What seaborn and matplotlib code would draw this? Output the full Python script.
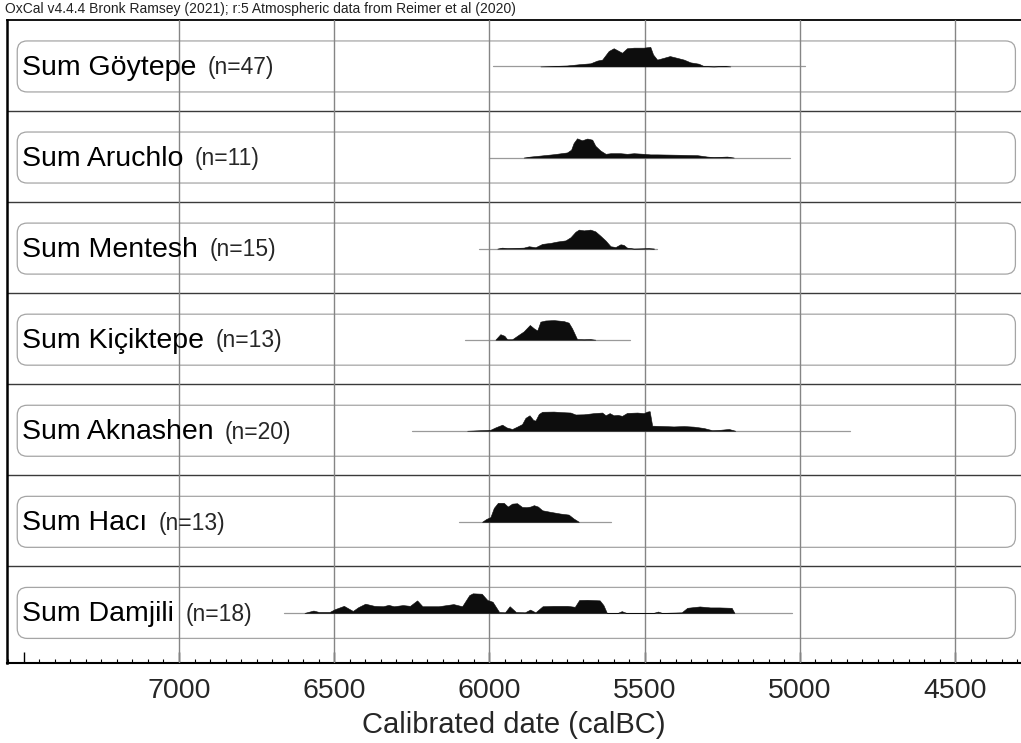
import matplotlib
matplotlib.use('Agg')
import matplotlib.pyplot as plt
from matplotlib.patches import FancyBboxPatch
import seaborn as sns
import pandas as pd

# row labels, top to bottom
sites = ['Göytepe', 'Aruchlo', 'Mentesh', 'Kiçiktepe', 'Aknashen', 'Hacı', 'Damjili']
n_dates = [47, 11, 15, 13, 20, 13, 18]

# thin range lines (start, end) in calBC
ranges = [(5990, 4985), (6002, 5031), (6034, 5460), (6080, 5546),
          (6249, 4840), (6099, 5610), (6661, 5026)]

# summed probability curves (relative heights)
goytepe_years = [5836, 5750, 5707, 5675, 5653, 5637, 5616, 5600, 5587, 5573, 5557, 5535, 5503,
                 5482, 5473, 5460, 5439, 5419, 5396, 5374, 5353, 5326, 5310, 5278, 5240, 5224]
goytepe_dens = [0, .05, .12, .16, .30, .35, .79, .93, .82, .70, .93, .96, .96,
                1.0, .61, .35, .44, .53, .44, .35, .21, .14, .02, 0, .03, 0]

aruchlo_years = [5890, 5868, 5836, 5793, 5750, 5737, 5729, 5718, 5702, 5685, 5669, 5659, 5643, 5626,
                 5610, 5578, 5557, 5535, 5503, 5482, 5460, 5385, 5331, 5299, 5278, 5235, 5213]
aruchlo_dens = [0, .05, .10, .17, .26, .40, .74, .98, .88, .97, .91, .60, .36, .19,
                .22, .22, .19, .22, .19, .16, .16, .14, .12, .05, .02, .05, 0]

mentesh_years = [5975, 5959, 5943, 5890, 5873, 5852, 5830, 5804, 5782, 5755, 5739, 5723, 5712,
                 5696, 5675, 5659, 5643, 5626, 5610, 5594, 5578, 5568, 5557, 5535, 5487, 5470]
mentesh_dens = [0, .05, .02, .05, .12, .07, .24, .29, .36, .42, .58, .86, .97,
                .93, .97, .88, .66, .41, .12, .08, .22, .19, .05, 0, .02, 0]

kiciktepe_years = [5981, 5965, 5952, 5943, 5927, 5906, 5890, 5870, 5857, 5846, 5836, 5820, 5793,
                   5761, 5745, 5734, 5718, 5696, 5675, 5659]
kiciktepe_dens = [0, .28, .20, .02, .02, .25, .42, .75, .58, .47, .92, .98, 1.0,
                  .95, .87, .58, .03, .02, .03, 0]

aknashen_years = [6072, 5997, 5981, 5959, 5945, 5927, 5911, 5895, 5884, 5871, 5859, 5852, 5841,
                  5830, 5793, 5766, 5739, 5723, 5696, 5664, 5637, 5626, 5613, 5600, 5587, 5573,
                  5557, 5524, 5503, 5492, 5484, 5476, 5439, 5407, 5374, 5342, 5310, 5283, 5256,
                  5229, 5208]
aknashen_dens = [0, .05, .17, .31, .17, .09, .21, .34, .66, .79, .55, .52, .86,
                 .97, .98, .95, .93, .83, .84, .90, .93, .79, .90, .79, .81, .76,
                 .91, .93, .90, .98, 1.0, .26, .24, .22, .24, .21, .14, .03, .05,
                 .09, 0]

haci_years = [6024, 6010, 5997, 5986, 5973, 5954, 5941, 5927, 5911, 5895, 5881, 5868, 5857,
              5844, 5830, 5804, 5771, 5745, 5729, 5712]
haci_dens = [0, .15, .24, .71, .97, .97, .78, .93, .95, .76, .75, .78, .85,
             .78, .59, .51, .42, .37, .17, 0]

damjili_years = [6596, 6567, 6550, 6515, 6498, 6469, 6440, 6423, 6400, 6371, 6343, 6325, 6308,
                 6279, 6256, 6233, 6216, 6164, 6116, 6088, 6065, 6054, 6025, 6007, 5990, 5969,
                 5950, 5935, 5915, 5886, 5869, 5852, 5829, 5794, 5749, 5725, 5711, 5685, 5645,
                 5633, 5622, 5587, 5574, 5559, 5472, 5457, 5444, 5381, 5363, 5323, 5289, 5260,
                 5220, 5211]
damjili_dens = [0, .12, .05, .05, .19, .36, .10, .29, .47, .36, .34, .41, .34,
                .40, .36, .64, .34, .34, .45, .34, .91, 1.0, .98, .66, .57, .05,
                .03, .34, .05, .03, .17, .03, .34, .36, .36, .31, .66, .67, .64,
                .40, 0, 0, .09, 0, 0, .07, 0, .03, .26, .33, .28, .28,
                .26, 0]

curves = [(goytepe_years, goytepe_dens), (aruchlo_years, aruchlo_dens),
          (mentesh_years, mentesh_dens), (kiciktepe_years, kiciktepe_dens),
          (aknashen_years, aknashen_dens), (haci_years, haci_dens),
          (damjili_years, damjili_dens)]

major_ticks = [7500, 7000, 6500, 6000, 5500, 5000, 4500]
major_labels = ['', '7000', '6500', '6000', '5500', '5000', '4500']

sns.set_theme(style='white')
plt.rcParams['font.family'] = ['Liberation Sans', 'DejaVu Sans']

fig = plt.figure(figsize=(10.21, 7.43), dpi=100)
ax = fig.add_axes([7 / 1021, 1 - 663 / 743, 1 - 7 / 1021, 643 / 743])
ax.set_xlim(7554, 4288)
ax.set_ylim(-0.06, 7)

n_rows = len(sites)
peak = 0.215
x_left, x_right = 7521, 4306

# range lines through seaborn
rows = []
for i, (a, b) in enumerate(ranges):
    base = n_rows - 1 - i + 0.49
    rows.append({'site': sites[i], 'year': a, 'y': base})
    rows.append({'site': sites[i], 'year': b, 'y': base})
range_df = pd.DataFrame(rows)
sns.lineplot(data=range_df, x='year', y='y', units='site', estimator=None, sort=False,
             color='#9a9a9a', lw=0.9, ax=ax, zorder=3)

for i, site in enumerate(sites):
    row_bottom = n_rows - 1 - i
    base = row_bottom + 0.49
    # rounded label box
    box = FancyBboxPatch((x_right, base - 0.28), x_left - x_right, 0.56,
                         boxstyle='round,pad=0,rounding_size=32',
                         mutation_aspect=0.0034, fc='none', ec='#a5a5a5', lw=0.9, zorder=2)
    ax.add_patch(box)
    yrs, dens = curves[i]
    yvals = [base + peak * d for d in dens]
    ax.fill_between(yrs, base, yvals, color='#0d0d0d', lw=0.4, ec='#0d0d0d', zorder=4)
    t = ax.text(7505, base - 0.09, 'Sum ' + site, fontsize=20.5, color='black',
                va='baseline', ha='left', zorder=5)
    ax.annotate('(n=%d)' % n_dates[i], xy=(1, 0), xycoords=t, xytext=(8, 1),
                textcoords='offset points', fontsize=16.5, va='bottom', ha='left', zorder=5)
    if i > 0:
        ax.axhline(row_bottom + 1, color='#3a3a3a', lw=1.0, zorder=2)

for xv in major_ticks[1:]:
    ax.axvline(xv, color='#858585', lw=1.0, zorder=3)

ax.set_xticks(major_ticks, labels=major_labels)
ax.set_xticks(list(range(7550, 4250, -50)), minor=True)
ax.set_yticks([])
ax.tick_params(axis='x', which='major', direction='in', length=8, width=1.0, color='black',
               labelsize=20.5, pad=11, bottom=True)
ax.tick_params(axis='x', which='minor', direction='in', length=3, width=0.8, color='black',
               bottom=True)
ax.set_xlabel('Calibrated date (calBC)', fontsize=21, labelpad=5)
ax.set_ylabel('')

for side in ['left', 'top', 'bottom']:
    ax.spines[side].set_visible(True)
    ax.spines[side].set_color('black')
ax.spines['left'].set_linewidth(1.8)
ax.spines['top'].set_linewidth(1.3)
ax.spines['bottom'].set_linewidth(1.5)
ax.spines['right'].set_visible(False)

fig.text(5 / 1021, 1 - 9 / 743, 'OxCal v4.4.4 Bronk Ramsey (2021); r:5 Atmospheric data from Reimer et al (2020)',
         fontsize=10, va='center', ha='left', color='#222222')

fig.savefig('out.png', dpi=100)
